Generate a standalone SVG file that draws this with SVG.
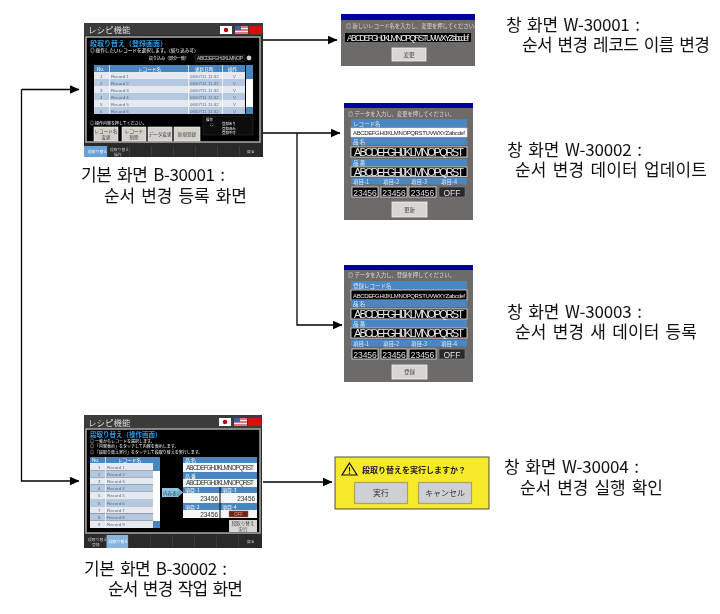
<svg xmlns="http://www.w3.org/2000/svg" width="720" height="614" viewBox="0 0 720 614">
<style>
text{font-family:"Noto Sans CJK JP","Liberation Sans",sans-serif}
.lb{font-family:"Noto Sans CJK KR","Noto Sans",sans-serif;font-size:17px;word-spacing:2.2px;fill:#111}
.w{fill:#fff}.t5{font-size:4.6px}.t4{font-size:4px}.t3{font-size:3.4px}
.hd{fill:#4a86c0}.r1{fill:#e6e9f0}.r2{fill:#b4c8e0}
.cell{font-size:4.4px;fill:#5a6a80;font-family:"Liberation Sans",sans-serif}
.hdt{font-size:4.6px;fill:#fff}
.btn{fill:#d4d0cc;stroke:#f4f4f4;stroke-width:.6}
.bt{font-size:4.6px;fill:#444;text-anchor:middle}
.win{fill:#6e6a68}.tb{fill:#0000a0}
.bar{fill:#4a86c4}.blk{fill:#000;stroke:#e8e8e8;stroke-width:.8}
.big{font-family:"Liberation Sans",sans-serif;font-size:11px;fill:#e8e8e8;text-anchor:middle}
.num{font-family:"Liberation Sans",sans-serif;font-size:8.5px;fill:#e0e0e0;text-anchor:middle}
.bl{font-size:5.5px;fill:#dfe8f4}
.pb{fill:#d8d6d4;stroke:#f0f0f0;stroke-width:.8}
.pv{font-family:"Liberation Sans",sans-serif;font-size:6.4px;fill:#333}
.c{fill:none;stroke:#000;stroke-width:1.3}
.ls{font-family:"Liberation Sans",sans-serif}
</style>
<defs>
<marker id="a" markerWidth="10" markerHeight="9" refX="9.500" refY="4.500" orient="auto" markerUnits="userSpaceOnUse"><path d="M0 0L10 4.500L0 9z" fill="#000"/></marker>
<filter id="s" x="-2%" y="-2%" width="104%" height="104%"><feGaussianBlur stdDeviation=".3"/></filter>
<g id="flags">
<rect x="0" y="0" width="12" height="8" fill="#fff"/><circle cx="6" cy="4" r="2.2" fill="#c00010"/>
<rect x="15" y="0" width="13" height="8" fill="#d87a84"/><rect x="15" y="2" width="13" height="1" fill="#eee"/><rect x="15" y="5" width="13" height="1" fill="#eee"/><rect x="15" y="0" width="6" height="4" fill="#4a5aa8"/>
<rect x="29" y="0" width="13" height="8" fill="#d81010"/>
</g>
</defs>
<rect width="720" height="614" fill="#fff"/>
<g id="connectors">
<path class="c" d="M263 40H337" marker-end="url(#a)"/>
<path class="c" d="M263 133H340" marker-end="url(#a)"/>
<path class="c" d="M297 133V325H342" marker-end="url(#a)"/>
<path class="c" d="M21.500 89.500H79" marker-end="url(#a)"/>
<path class="c" d="M21.500 89.500V481H79" marker-end="url(#a)"/>
<path class="c" d="M263 482H332" marker-end="url(#a)"/>
</g>
<g id="B-30001" filter="url(#s)">
<rect x="84" y="23" width="179" height="134" fill="#2a2a2a"/>
<rect x="84" y="23" width="179" height="12" fill="#3a3a3a"/>
<text x="88" y="33" font-size="8.5" fill="#ddd">レシピ機能</text>
<use href="#flags" x="220" y="26"/>
<rect x="86" y="37" width="174" height="105" fill="#000" stroke="#aaa" stroke-width="1.5"/>
<text x="90" y="46" font-size="7" fill="#2f9ae0" font-weight="700">段取り替え（登録画面）</text>
<text x="90" y="52" class="w t5">◎ 操作したいレコードを選択します。（絞り込み可）</text>
<text x="149" y="60" class="w t4">絞り込み（部分一致）</text>
<rect x="195" y="55" width="50" height="6.500" fill="#111" stroke="#555" stroke-width=".4"/>
<text x="197" y="60" font-size="5" fill="#ccc" class="ls" textLength="46" style="font-family:'Liberation Sans'">ABCDEFGHIJKLMNOP</text>
<circle cx="249" cy="58" r="2.4" fill="#ccc"/>
<rect x="94" y="65" width="151" height="49" fill="#fff"/>
<rect class="hd" x="94" y="65" width="151" height="7"/>
<g id="rows1">
<rect class="r1" x="94" y="72" width="151" height="7"/><rect class="r2" x="94" y="79" width="151" height="7"/><rect class="r1" x="94" y="86" width="151" height="7"/><rect class="r2" x="94" y="93" width="151" height="7"/><rect class="r1" x="94" y="100" width="151" height="7"/><rect class="r2" x="94" y="107" width="151" height="7"/>
</g>
<path d="M109.500 65V114M188.500 65V114M222.500 65V114" stroke="#fff" stroke-width=".7"/>
<text x="97" y="70.500" class="hdt">No.</text><text x="138" y="70.500" class="hdt">レコード名</text><text x="195" y="70.500" class="hdt">更新日時</text><text x="228" y="70.500" class="hdt">操作</text>
<text class="cell" x="100" y="77.500">1</text><text class="cell" x="111" y="77.500">Record 1</text><text class="cell" x="190" y="77.500">06/07/11 11:32</text><text class="cell" x="233" y="77.500">V</text>
<text class="cell" x="100" y="84.500">2</text><text class="cell" x="111" y="84.500">Record 2</text><text class="cell" x="190" y="84.500">06/07/11 11:32</text><text class="cell" x="233" y="84.500">V</text>
<text class="cell" x="100" y="91.500">3</text><text class="cell" x="111" y="91.500">Record 3</text><text class="cell" x="190" y="91.500">06/07/11 11:32</text><text class="cell" x="233" y="91.500">V</text>
<text class="cell" x="100" y="98.500">4</text><text class="cell" x="111" y="98.500">Record 4</text><text class="cell" x="190" y="98.500">06/07/11 11:32</text><text class="cell" x="233" y="98.500">V</text>
<text class="cell" x="100" y="105.500">5</text><text class="cell" x="111" y="105.500">Record 5</text><text class="cell" x="190" y="105.500">06/07/11 11:32</text><text class="cell" x="233" y="105.500">V</text>
<text class="cell" x="100" y="112.500">6</text><text class="cell" x="111" y="112.500">Record 6</text><text class="cell" x="190" y="112.500">06/07/11 11:32</text><text class="cell" x="233" y="112.500">V</text>
<rect x="246" y="65" width="7" height="49" fill="#fff"/><rect class="hd" x="246" y="65" width="7" height="7"/><rect class="hd" x="246" y="72" width="7" height="7"/><rect class="hd" x="246" y="107" width="7" height="7"/>
<text x="90" y="125" class="w t4">◎ 操作内容を押してください。</text>
<rect class="btn" x="94" y="127" width="24" height="14"/><text class="bt" x="106" y="133">レコード名</text><text class="bt" x="106" y="139">変更</text>
<rect class="btn" x="122" y="127" width="24" height="14"/><text class="bt" x="134" y="133">レコード</text><text class="bt" x="134" y="139">削除</text>
<rect class="btn" x="148" y="127" width="24" height="14"/><text class="bt" x="160" y="136">データ変更</text>
<rect class="btn" x="174" y="127" width="26" height="14"/><text class="bt" x="187" y="136">新規登録</text>
<rect x="203" y="116" width="50" height="19" fill="#0a0a0a" stroke="#444" stroke-width=".5"/>
<text x="206" y="120.500" class="w t3">操作</text><text x="210" y="126" class="w t3">○</text><text x="222" y="125" class="w t3">登録あり</text><text x="222" y="129.500" class="w t3">登録済み</text><text x="222" y="134" class="w t3">登録不可</text>
<rect x="84" y="146" width="23" height="11" fill="#6aa0d8"/>
<path d="M107.500 146V157M129.500 146V157M151.500 146V157M173.500 146V157M195.500 146V157M217.500 146V157M239.500 146V157" stroke="#444" stroke-width=".6"/>
<text x="88" y="153" font-size="3.8" fill="#fff">段取り替え</text><text x="110" y="150.500" font-size="3.8" fill="#ccc">段取り替え</text><text x="114" y="155.500" font-size="3.8" fill="#ccc">操作</text><text x="247" y="153" font-size="3.8" fill="#ccc">戻る</text>
</g>
<g id="B-30002" filter="url(#s)">
<rect x="84" y="415" width="178" height="133" fill="#2a2a2a"/>
<rect x="84" y="415" width="178" height="13" fill="#3a3a3a"/>
<text x="88" y="426" font-size="8.5" fill="#ddd">レシピ機能</text>
<use href="#flags" x="219" y="418"/>
<rect x="86" y="429" width="174" height="104" fill="#000" stroke="#aaa" stroke-width="1.5"/>
<text x="90" y="437" font-size="6.5" fill="#2f9ae0" font-weight="700">段取り替え（操作画面）</text>
<text x="90" y="442.500" class="w t4">◎ 一覧からレコードを選択します。</text>
<text x="90" y="448" class="w t4">◎ 「内容表示」をタッチして内容を表示します。</text>
<text x="90" y="453.500" class="w t4">◎ 「段取り替え実行」をタッチして段取り替えを実行します。</text>
<rect class="hd" x="90" y="457" width="63" height="6"/>
<text class="hdt" x="92" y="462">No.</text><text class="hdt" x="118" y="462">レコード名</text>
<rect class="r1" x="90" y="463" width="63" height="7.200"/><rect class="r2" x="90" y="470.200" width="63" height="7.200"/><rect class="r1" x="90" y="477.400" width="63" height="7.200"/><rect class="r2" x="90" y="484.600" width="63" height="7.200"/><rect class="r1" x="90" y="491.800" width="63" height="7.200"/><rect class="r2" x="90" y="499" width="63" height="7.200"/><rect class="r1" x="90" y="506.200" width="63" height="7.200"/><rect class="r2" x="90" y="513.400" width="63" height="7.200"/><rect class="r1" x="90" y="520.600" width="63" height="7.400"/>
<path d="M105.500 457V528" stroke="#fff" stroke-width=".7"/>
<text class="cell" x="98" y="468.500">1</text><text class="cell" x="107" y="468.500">Record 1</text>
<text class="cell" x="98" y="475.700">2</text><text class="cell" x="107" y="475.700">Record 2</text>
<text class="cell" x="98" y="482.900">3</text><text class="cell" x="107" y="482.900">Record 3</text>
<text class="cell" x="98" y="490.100">4</text><text class="cell" x="107" y="490.100">Record 4</text>
<text class="cell" x="98" y="497.300">5</text><text class="cell" x="107" y="497.300">Record 5</text>
<text class="cell" x="98" y="504.500">6</text><text class="cell" x="107" y="504.500">Record 6</text>
<text class="cell" x="98" y="511.700">7</text><text class="cell" x="107" y="511.700">Record 7</text>
<text class="cell" x="98" y="518.900">8</text><text class="cell" x="107" y="518.900">Record 8</text>
<text class="cell" x="98" y="526.100">9</text><text class="cell" x="107" y="526.100">Record 9</text>
<rect x="153" y="457" width="7" height="71" fill="#fff"/><rect class="hd" x="153" y="457" width="7" height="7"/><rect class="hd" x="153" y="464" width="7" height="7"/><rect class="hd" x="153" y="521" width="7" height="7"/>
<path d="M162 488H178L183 492.500L178 497H162z" fill="#8fc4e0"/>
<text x="163" y="494.500" font-size="4.6" fill="#246">内容表示</text>
<rect x="183" y="457" width="74" height="61" fill="#f4f6f8"/>
<rect class="hd" x="183" y="457" width="74" height="6"/><rect class="hd" x="183" y="472" width="74" height="7"/><rect class="hd" x="183" y="487" width="74" height="6"/><rect class="hd" x="183" y="503" width="74" height="7"/>
<path d="M220 487V518" stroke="#000" stroke-width="1"/>
<text x="185" y="462" font-size="5" fill="#fff">品 名</text><text x="185" y="477.500" font-size="5" fill="#fff">品 番</text><text x="185" y="492" font-size="5" fill="#fff">項目-1</text><text x="222" y="492" font-size="5" fill="#fff">項目-3</text><text x="185" y="508.500" font-size="5" fill="#fff">項目-2</text><text x="222" y="508.500" font-size="5" fill="#fff">項目-4</text>
<text class="pv" x="220" y="470" text-anchor="middle" textLength="68" style="font-family:'Liberation Sans'">ABCDEFGHIJKLMNOPQRST</text>
<text class="pv" x="220" y="485" text-anchor="middle" textLength="68" style="font-family:'Liberation Sans'">ABCDEFGHIJKLMNOPQRST</text>
<text class="pv" x="218" y="500.500" text-anchor="end" style="font-family:'Liberation Sans'">23456</text><text class="pv" x="255" y="500.500" text-anchor="end" style="font-family:'Liberation Sans'">23456</text><text class="pv" x="218" y="516.500" text-anchor="end" style="font-family:'Liberation Sans'">23456</text>
<rect x="229" y="511" width="19" height="6" fill="#702018" stroke="#a06050" stroke-width=".5"/>
<text x="238.500" y="516" font-size="4.500" fill="#e8a080" text-anchor="middle" style="font-family:'Liberation Sans'">OFF</text>
<rect x="229" y="520" width="28" height="12" fill="#d8d6d4"/>
<text class="bt" x="243" y="525">段取り替え</text><text class="bt" x="243" y="530.500">実行</text>
<rect x="106" y="535" width="22" height="13" fill="#8ab4e0"/>
<path d="M106.500 535V548M128.500 535V548M150.500 535V548M172.500 535V548M194.500 535V548M216.500 535V548M238.500 535V548" stroke="#444" stroke-width=".6"/>
<text x="88" y="541" font-size="3.8" fill="#ccc">段取り替え</text><text x="92" y="546" font-size="3.8" fill="#ccc">登録</text><text x="109" y="543" font-size="3.8" fill="#fff">段取り替え</text><text x="247" y="543" font-size="3.800" fill="#ccc">戻る</text>
</g>
<g id="W-30001" filter="url(#s)">
<rect class="win" x="341" y="14" width="134" height="52"/><rect class="tb" x="341" y="14" width="134" height="6"/>
<text x="346" y="28" font-size="5.300" fill="#ddd">◎ 新しいレコード名を入力し、変更を押してください。</text>
<rect x="345" y="33" width="126" height="9" fill="#000"/>
<text x="408" y="41" font-size="8.500" fill="#eee" text-anchor="middle" textLength="122" style="font-family:'Liberation Sans'">ABCDEFGHIJKLMNOPQRSTUVWXYZabcdef</text>
<rect class="pb" x="392" y="48" width="34" height="13"/><text class="bt" x="409" y="56.500" style="font-size:5.500px">変更</text>
</g>
<g id="W-30002" filter="url(#s)">
<rect class="win" x="344" y="103" width="129" height="117"/><rect class="tb" x="344" y="103" width="129" height="5"/>
<text x="348" y="116" font-size="5.300" fill="#ddd">◎ データを入力し、変更を押してください。</text>
<rect class="bar" x="351" y="119" width="116" height="8"/><text class="bl" x="353" y="125.500">レコード名</text>
<rect x="351" y="128" width="116" height="9" fill="#fff" stroke="#dde" stroke-width=".6"/><text x="409" y="135" font-size="6" fill="#222" text-anchor="middle" textLength="112" style="font-family:'Liberation Sans'">ABCDEFGHIJKLMNOPQRSTUVWXYZabcdef</text>
<rect class="bar" x="351" y="138" width="116" height="7"/><text class="bl" x="353" y="144">品 名</text>
<rect class="blk" x="351" y="147" width="116" height="10"/><text class="big" x="409" y="156" textLength="110" style="font-family:'Liberation Sans'">ABCDEFGHIJKLMNOPQRST</text>
<rect class="bar" x="351" y="159" width="116" height="7"/><text class="bl" x="353" y="165">品 番</text>
<rect class="blk" x="351" y="167" width="116" height="9.500"/><text class="big" x="409" y="175.500" textLength="110" style="font-family:'Liberation Sans'">ABCDEFGHIJKLMNOPQRST</text>
<rect class="bar" x="351" y="178" width="116" height="6.500"/><text class="bl" x="353" y="184">項目-1</text><text class="bl" x="383" y="184">項目-2</text><text class="bl" x="411" y="184">項目-3</text><text class="bl" x="441" y="184">項目-4</text>
<rect class="blk" x="352" y="187" width="26" height="10"/><text class="num" x="365" y="195.500" style="font-family:'Liberation Sans'">23456</text>
<rect class="blk" x="381" y="187" width="26" height="10"/><text class="num" x="394" y="195.500" style="font-family:'Liberation Sans'">23456</text>
<rect class="blk" x="409" y="187" width="27" height="10"/><text class="num" x="422.500" y="195.500" style="font-family:'Liberation Sans'">23456</text>
<rect x="439" y="187" width="26" height="10" fill="#2a2a2a" stroke="#888" stroke-width=".6"/><text class="num" x="452" y="195.500" style="font-family:'Liberation Sans'">OFF</text>
<rect class="pb" x="392" y="202" width="35" height="15"/><text class="bt" x="409.500" y="211.500" style="font-size:5.500px">更新</text>
</g>
<g id="W-30003" filter="url(#s)">
<rect class="win" x="344" y="265" width="129" height="117"/><rect class="tb" x="344" y="265" width="129" height="5"/>
<text x="348" y="277" font-size="5.300" fill="#ddd">◎ データを入力し、登録を押してください。</text>
<rect class="bar" x="351" y="281" width="116" height="8"/><text class="bl" x="353" y="287.500">登録レコード名</text>
<rect class="blk" x="351" y="290" width="116" height="10"/><text x="409" y="297.500" font-size="6" fill="#eee" text-anchor="middle" textLength="112" style="font-family:'Liberation Sans'">ABCDEFGHIJKLMNOPQRSTUVWXYZabcdef</text>
<rect class="bar" x="351" y="300" width="116" height="7"/><text class="bl" x="353" y="306">品 名</text>
<rect class="blk" x="351" y="309" width="116" height="10"/><text class="big" x="409" y="318" textLength="110" style="font-family:'Liberation Sans'">ABCDEFGHIJKLMNOPQRST</text>
<rect class="bar" x="351" y="320" width="116" height="7"/><text class="bl" x="353" y="326">品 番</text>
<rect class="blk" x="351" y="328" width="116" height="10"/><text class="big" x="409" y="337" textLength="110" style="font-family:'Liberation Sans'">ABCDEFGHIJKLMNOPQRST</text>
<rect class="bar" x="351" y="340" width="116" height="6.500"/><text class="bl" x="353" y="346">項目-1</text><text class="bl" x="383" y="346">項目-2</text><text class="bl" x="411" y="346">項目-3</text><text class="bl" x="441" y="346">項目-4</text>
<rect class="blk" x="352" y="349" width="26" height="10"/><text class="num" x="365" y="357.500" style="font-family:'Liberation Sans'">23456</text>
<rect class="blk" x="381" y="349" width="26" height="10"/><text class="num" x="394" y="357.500" style="font-family:'Liberation Sans'">23456</text>
<rect class="blk" x="409" y="349" width="27" height="10"/><text class="num" x="422.500" y="357.500" style="font-family:'Liberation Sans'">23456</text>
<rect x="439" y="349" width="26" height="10" fill="#2a2a2a" stroke="#888" stroke-width=".6"/><text class="num" x="452" y="357.500" style="font-family:'Liberation Sans'">OFF</text>
<rect class="pb" x="392" y="365" width="35" height="14"/><text class="bt" x="409.500" y="374" style="font-size:5.500px">登録</text>
</g>
<g id="W-30004" filter="url(#s)">
<rect x="335" y="457" width="154" height="52" fill="#f6ea2c" stroke="#222" stroke-width=".8"/>
<path d="M349.500 463L357 475H342z" fill="#f6ea2c" stroke="#111" stroke-width="1.200"/><path d="M349.500 467V471.500M349.500 472.500V474" stroke="#111" stroke-width="1.100"/>
<text x="362" y="473" font-size="8" fill="#222" font-weight="700">段取り替えを実行しますか？</text>
<rect x="354.500" y="482.500" width="53" height="21" fill="#cfcfd6" stroke="#a8a468" stroke-width="1.200"/><text x="381" y="496" font-size="8" fill="#333" text-anchor="middle">実行</text>
<rect x="418.500" y="482.500" width="53" height="21" fill="#cfcfd6" stroke="#a8a468" stroke-width="1.200"/><text x="445" y="496" font-size="8" fill="#333" text-anchor="middle">キャンセル</text>
</g>
<g id="labels">
<text class="lb" x="81" y="181" textLength="144">기본 화면 B-30001 :</text><text class="lb" x="104" y="202" textLength="143">순서 변경 등록 화면</text>
<text class="lb" x="84" y="575" textLength="143">기본 화면 B-30002 :</text><text class="lb" x="108" y="595" textLength="135">순서 변경 작업 화면</text>
<text class="lb" x="506" y="31" textLength="134">창 화면 W-30001 :</text><text class="lb" x="522" y="51" textLength="188">순서 변경 레코드 이름 변경</text>
<text class="lb" x="507" y="156" textLength="135">창 화면 W-30002 :</text><text class="lb" x="515" y="176" textLength="192">순서 변경 데이터 업데이트</text>
<text class="lb" x="507" y="318" textLength="135">창 화면 W-30003 :</text><text class="lb" x="515" y="338" textLength="182">순서 변경 새 데이터 등록</text>
<text class="lb" x="504" y="473" textLength="135">창 화면 W-30004 :</text><text class="lb" x="520" y="494" textLength="143">순서 변경 실행 확인</text>
</g>
</svg>
